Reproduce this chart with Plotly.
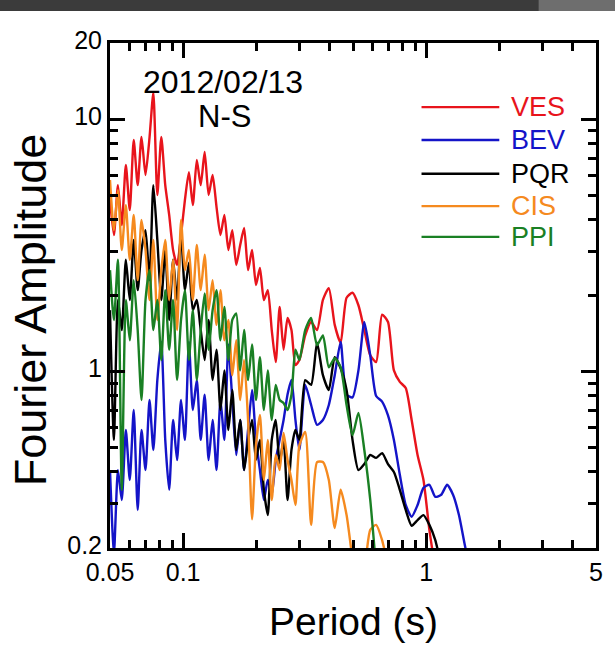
import math
import plotly.graph_objects as go

# ---------------- data ----------------
period = [0.0500, 0.0519, 0.0539, 0.0559, 0.0581, 0.0603, 0.0626, 0.0650, 0.0674, 0.0700,
          0.0727, 0.0754, 0.0783, 0.0813, 0.0844, 0.0876, 0.0909, 0.0944, 0.0980, 0.1017,
          0.1056, 0.1096, 0.1138, 0.1181, 0.1226, 0.1273, 0.1322, 0.1372, 0.1424, 0.1478,
          0.1535, 0.1593, 0.1654, 0.1717, 0.1782, 0.1850, 0.1921, 0.1994, 0.2070, 0.2149,
          0.2230, 0.2315, 0.2404, 0.2495, 0.2590, 0.2689, 0.2791, 0.2898, 0.3008,
          0.3179, 0.3362, 0.3556, 0.3760, 0.3976, 0.4205, 0.4447, 0.4705, 0.4977, 0.5264,
          0.5566, 0.5888, 0.6227, 0.6586, 0.6966, 0.7367, 0.7792, 0.8241, 0.8716, 0.9218,
          0.9750, 1.0311, 1.0905, 1.1534, 1.2199, 1.2902, 1.3645, 1.4431, 1.5263]

ves = [4.78, 3.47, 5.47, 3.80, 6.57, 4.36, 8.26, 5.47, 8.49, 6.00,
       8.42, 12.7, 5.00, 8.49, 5.47, 4.17, 3.03, 2.64, 3.47, 4.78,
       6.16, 4.56, 6.88, 5.47, 7.40, 5.00, 6.00, 4.48, 3.47, 4.17,
       3.03, 3.63, 2.64, 3.17, 3.70, 2.52, 3.03, 2.20, 2.57, 1.92,
       2.10, 1.46, 1.09, 1.80, 1.22, 1.63, 1.46, 1.06, 1.11,
       1.39, 1.57, 1.46, 1.92, 2.14, 1.53, 1.30, 1.96, 2.05, 1.83,
       1.46, 1.16, 1.09, 1.68, 1.57, 1.01, 0.91, 0.86, 0.643, 0.467,
       0.372, 0.236, 0.165, None, None, None, None, None, None]

bev = [0.407, 0.19, 0.407, 0.31, 0.587, 0.372, 0.704, 0.283, 0.587, 0.407,
       0.771, 0.489, 0.925, 1.31, 0.536, 0.34, 0.643, 0.446, 0.771, 0.536,
       1.31, 0.704, 0.925, 0.536, 0.81, 0.446, 0.643, 0.407, 0.771, 0.536,
       1.28, 0.771, 0.467, 0.643, 0.407, 0.587, 0.845, 0.536, 0.407, 0.31,
       0.372, 0.325, 0.446, 0.536, 0.643, 0.81, 0.925, 0.643, 0.489,
       0.885, 0.737, 0.615, 0.643, 0.737, 0.967, 1.31, 0.81, 0.79, 1.01,
       1.57, 1.16, 0.80, 0.76, 0.67, 0.536, 0.39, 0.296, 0.266, 0.296,
       0.346, 0.356, 0.319, 0.325, 0.356, 0.325, 0.27, 0.205, 0.16]

pqr = [1.75, 0.536, 1.92, 1.46, 2.77, 1.92, 3.32, 2.10, 3.03, 3.63,
       2.30, 5.47, 3.32, 1.92, 3.03, 1.60, 2.77, 1.92, 3.53, 2.10,
       2.70, 1.75, 1.92, 1.46, 1.11, 1.60, 0.925, 1.22, 0.704, 1.01,
       0.587, 0.845, 0.489, 0.643, 0.407, 0.536, 0.643, 0.446, 0.536, 0.34,
       0.27, 0.536, 0.643, 0.433, 0.536, 0.31, 0.489, 0.587, 0.536,
       0.925, 0.885, 1.30, 0.967, 0.845, 1.14, 1.03, 0.845, 0.536, 0.407,
       0.43, 0.467, 0.455, 0.475, 0.43, 0.40, 0.34, 0.283, 0.245, 0.258,
       0.27, 0.247, 0.215, 0.17, None, None, None, None, None]

cis = [5.73, 3.63, 5.23, 3.03, 4.56, 2.77, 4.17, 2.30, 3.98, 3.03,
       1.92, 3.32, 1.60, 2.52, 3.32, 1.92, 2.77, 1.46, 3.98, 2.52,
       3.03, 1.92, 3.17, 2.10, 2.90, 1.75, 2.30, 1.53, 2.10, 1.33,
       1.60, 0.967, 1.33, 0.771, 1.11, 0.643, 0.26, 0.51, 0.673, 0.372,
       0.536, 0.31, 0.467, 0.407, 0.571, 0.446, 0.372, 0.296, 0.51,
       0.576, 0.247, 0.438, 0.438, 0.372, 0.24, 0.34, 0.27, 0.18, 0.125,
       0.16, 0.236, 0.247, 0.215, 0.17, None, None, None, None, None,
       None, None, None, None, None, None, None, None, None]

ppi = [2.52, 1.60, 2.77, 0.34, 1.92, 1.33, 2.30, 1.46, 0.771, 1.92,
       2.52, 1.46, 1.92, 1.11, 2.10, 1.22, 1.92, 0.925, 1.60, 2.10,
       1.11, 1.75, 0.925, 1.46, 2.04, 1.22, 1.75, 2.10, 1.33, 1.80,
       1.11, 1.60, 1.70, 1.01, 1.46, 0.925, 1.28, 0.771, 1.14, 0.704,
       1.01, 0.643, 0.885, 0.771, 0.75, 0.704, 0.81, 1.22, 1.11,
       1.46, 1.63, 1.27, 1.39, 1.04, 1.13, 1.04, 0.737, 0.56, 0.685,
       0.489, 0.31, 0.165, None, None, None, None, None, None, None,
       None, None, None, None, None, None, None, None, None]

names = ["VES", "BEV", "PQR", "CIS", "PPI"]
colors = ["#e8141c", "#1414c8", "#000000", "#f58a1f", "#1a8024"]
values = [ves, bev, pqr, cis, ppi]

x_tickvals = [0.05, 0.1, 1, 5]
x_ticktext = ["0.05", "0.1", "1", "5"]
x_minor = [0.06, 0.07, 0.08, 0.09, 0.2, 0.3, 0.4, 0.5, 0.6, 0.7, 0.8, 0.9, 2, 3, 4]
y_tickvals = [0.2, 1, 10, 20]
y_ticktext = ["0.2", "1", "10", "20"]
y_minor = [0.3, 0.4, 0.5, 0.6, 0.7, 0.8, 0.9, 2, 3, 4, 5, 6, 7, 8, 9]

X_RANGE = [math.log10(0.05), math.log10(5)]
Y_RANGE = [math.log10(0.2), math.log10(20)]

FONT = "Liberation Sans, Arial, sans-serif"

fig = go.Figure()
for name, vals, col in zip(names, values, colors):
    fig.add_trace(go.Scatter(
        x=period, y=vals, mode="lines", name=name, showlegend=False,
        line=dict(color=col, width=2.4, shape="spline", smoothing=0.6),
        connectgaps=False))

# empty trace that carries the overlay axes used for the short (minor) ticks
fig.add_trace(go.Scatter(x=[None], y=[None], xaxis="x2", yaxis="y2",
                         mode="lines", showlegend=False, hoverinfo="skip"))

axis_common = dict(
    type="log", showgrid=False, zeroline=False,
    showline=True, linewidth=3, linecolor="black", mirror="ticks",
    ticks="inside", tickwidth=2.5, tickcolor="black",
    tickfont=dict(family=FONT, size=25, color="black"),
)

fig.update_layout(
    xaxis=dict(**axis_common, range=X_RANGE, ticklen=15,
               tickmode="array", tickvals=x_tickvals, ticktext=x_ticktext,
               ticklabelstandoff=0),
    yaxis=dict(**axis_common, range=Y_RANGE, ticklen=15,
               tickmode="array", tickvals=y_tickvals, ticktext=y_ticktext,
               ticklabelstandoff=0, ticklabelshift=-3),
    xaxis2=dict(**axis_common, range=X_RANGE, ticklen=8, overlaying="x",
                anchor="y2", side="bottom",
                tickmode="array", tickvals=x_minor, showticklabels=False),
    yaxis2=dict(**axis_common, range=Y_RANGE, ticklen=8, overlaying="y",
                anchor="x2", side="left",
                tickmode="array", tickvals=y_minor, showticklabels=False),
)

annotations = [
    dict(text="2012/02/13", x=0.2333, y=0.9228, xref="paper", yref="paper",
         showarrow=False, font=dict(family=FONT, size=32, color="black"),
         xanchor="center", yanchor="middle"),
    dict(text="N-S", x=0.2353, y=0.8554, xref="paper", yref="paper",
         showarrow=False, font=dict(family=FONT, size=31, color="black"),
         xanchor="center", yanchor="middle"),
    dict(text="Period (s)", x=0.5, y=-0.1465, xref="paper", yref="paper",
         showarrow=False, font=dict(family=FONT, size=39, color="black"),
         xanchor="center", yanchor="middle"),
    dict(text="Fourier Amplitude", x=-0.1643, y=0.471, xref="paper", yref="paper",
         textangle=-90, showarrow=False, font=dict(family=FONT, size=45, color="black"),
         xanchor="center", yanchor="middle"),
]

# manual legend (long line samples as in the reference)
legend_y = [0.873, 0.808, 0.741, 0.677, 0.616]
shapes = []
for name, col, ly in zip(names, colors, legend_y):
    shapes.append(dict(type="line", xref="paper", yref="paper",
                       x0=0.641, x1=0.801, y0=ly, y1=ly,
                       line=dict(color=col, width=2.4)))
    annotations.append(dict(text=name, x=0.8215, y=ly, xref="paper", yref="paper",
                            showarrow=False, xanchor="left", yanchor="middle",
                            font=dict(family=FONT, size=27, color=col)))

# dark strip at the very top of the reference picture
shapes.append(dict(type="rect", xref="paper", yref="paper", x0=-0.25, x1=1.05,
                   y0=1.0634, y1=1.1, fillcolor="#3b3b3b", line=dict(width=0), layer="above"))
shapes.append(dict(type="rect", xref="paper", yref="paper", x0=0.882, x1=1.05,
                   y0=1.0634, y1=1.1, fillcolor="#6e6e6e", line=dict(width=0), layer="above"))

fig.update_layout(
    width=615, height=650, autosize=False,
    margin=dict(l=110, r=12, t=43, b=102),
    paper_bgcolor="white", plot_bgcolor="white",
    showlegend=False,
    annotations=annotations, shapes=shapes,
    font=dict(family=FONT, color="black"),
)

fig.write_html("out.html")
